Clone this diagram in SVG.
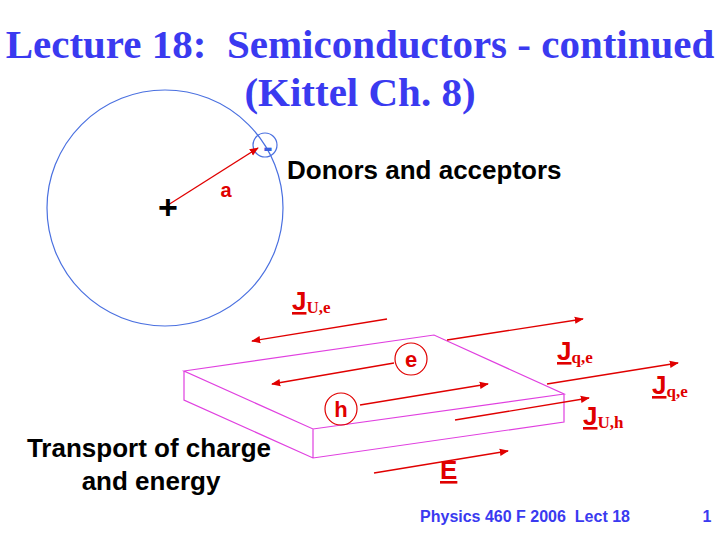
<svg xmlns="http://www.w3.org/2000/svg" width="720" height="540" viewBox="0 0 720 540">
<defs>
<marker id="ah" viewBox="0 0 10 10" refX="9" refY="5" markerWidth="7" markerHeight="7" orient="auto"><path d="M0,1 L10,5 L0,9 z" fill="#e00000"/></marker>
<style>
text{white-space:pre}
.t{font-family:"Liberation Serif",serif;font-weight:bold}
.s{font-family:"Liberation Sans",sans-serif;font-weight:bold}
.ar{stroke:#e00000;stroke-width:1.3;fill:none;marker-end:url(#ah)}
.bx{stroke:#e040e0;fill:none;stroke-width:1.2}
</style>
</defs>
<rect width="720" height="540" fill="#fff"/>
<text class="t" x="360" y="58" font-size="41" text-anchor="middle" fill="#3a3af0">Lecture 18:  Semiconductors - continued</text>
<text class="t" x="360" y="106" font-size="41" text-anchor="middle" fill="#3a3af0">(Kittel Ch. 8)</text>
<g id="atom">
<circle cx="165" cy="208" r="118" fill="none" stroke="#4a70e0" stroke-width="1.2"/>
<circle cx="265" cy="145" r="12" fill="none" stroke="#4a70e0" stroke-width="1.2"/>
<line x1="168" y1="205" x2="258" y2="148" class="ar"/>
<text class="s" x="268" y="157" font-size="28" text-anchor="middle" fill="#3a60e0">-</text>
<text class="s" x="226" y="197" font-size="20" fill="#e00000" text-anchor="middle">a</text>
<text class="s" x="168" y="219" font-size="34" text-anchor="middle">+</text>
</g>
<text class="s" x="287" y="179" font-size="26">Donors and acceptors</text>
<g id="slab">
<path class="bx" d="M184,371 L434,335 L564,394 L313,429 Z M184,371 L184,400 L313,458 L564,422 L564,394 M313,429 L313,458"/>
</g>
<g id="connectors">
<line class="ar" x1="387" y1="319" x2="252" y2="341"/>
<line class="ar" x1="447" y1="340" x2="583" y2="319"/>
<line class="ar" x1="394" y1="363" x2="272" y2="384"/>
<line class="ar" x1="547" y1="384" x2="678" y2="363"/>
<line class="ar" x1="360" y1="405" x2="488" y2="384"/>
<line class="ar" x1="455" y1="420" x2="589" y2="398"/>
<line class="ar" x1="374" y1="473" x2="508" y2="451"/>
</g>
<g id="e"><circle cx="411" cy="359" r="16" fill="none" stroke="#e00000" stroke-width="1.2"/><text class="s" x="411" y="367" font-size="22" fill="#e00000" text-anchor="middle">e</text></g>
<g id="h"><circle cx="341" cy="409" r="16" fill="none" stroke="#e00000" stroke-width="1.2"/><text class="s" x="341" y="417" font-size="22" fill="#e00000" text-anchor="middle">h</text></g>
<g fill="#e00000">
<text x="292" y="310"><tspan class="s" font-size="26" text-decoration="underline">J</tspan><tspan class="t" font-size="17" dy="3">U,e</tspan></text>
<text x="557" y="360"><tspan class="s" font-size="26" text-decoration="underline">J</tspan><tspan class="t" font-size="17" dy="3">q,e</tspan></text>
<text x="652" y="394"><tspan class="s" font-size="26" text-decoration="underline">J</tspan><tspan class="t" font-size="17" dy="3">q,e</tspan></text>
<text x="583" y="425"><tspan class="s" font-size="26" text-decoration="underline">J</tspan><tspan class="t" font-size="17" dy="3">U,h</tspan></text>
<text x="440" y="479" class="s" font-size="26" text-decoration="underline">E</text>
</g>
<text class="s" x="149" y="457" font-size="26" text-anchor="middle">Transport of charge</text>
<text class="s" x="151" y="490" font-size="26" text-anchor="middle">and energy</text>
<text class="s" x="525" y="522" font-size="16" text-anchor="middle" fill="#3a3af0">Physics 460 F 2006  Lect 18</text>
<text class="s" x="707" y="522" font-size="16" text-anchor="middle" fill="#3a3af0">1</text>
</svg>
